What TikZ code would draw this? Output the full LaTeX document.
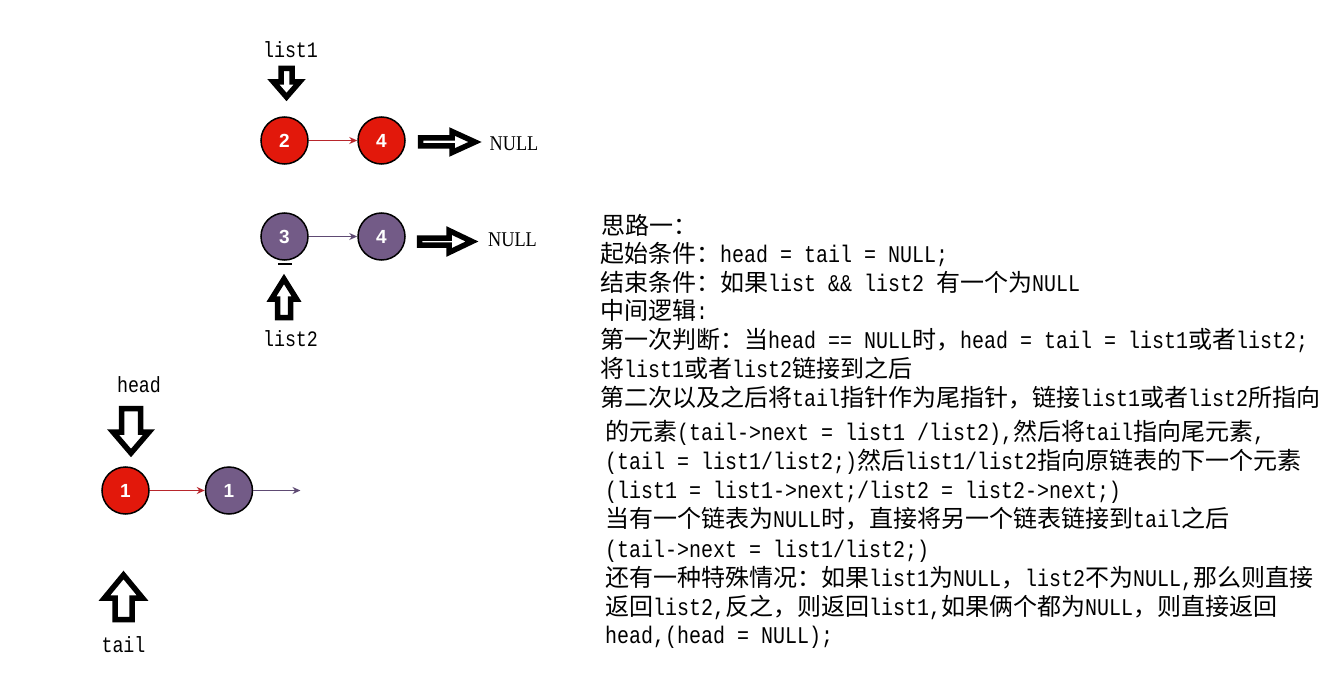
\documentclass[tikz,border=0pt]{standalone}
\usepackage{fontspec}
\usetikzlibrary{arrows.meta}
\newfontfamily\cjkfont{Noto Sans CJK SC}
\newfontfamily\latfont[FakeStretch=0.833]{Liberation Mono}
\newfontfamily\nulltxtfont[FakeStretch=0.87]{Liberation Serif}
\newfontfamily\numfont{Liberation Sans}
\XeTeXinterchartokenstate=1
\newXeTeXintercharclass\cjkcls
\makeatletter
\def\setcjkrange#1#2{\count@=#1\relax\loop\XeTeXcharclass\count@=\cjkcls\relax\ifnum\count@<#2\relax\advance\count@ by 1\relax\repeat}
\makeatother
\setcjkrange{"3000}{"303F}
\setcjkrange{"4E00}{"9FFF}
\setcjkrange{"FF00}{"FFEF}
\XeTeXinterchartoks 0 \cjkcls = {\cjkfont}
\XeTeXinterchartoks 4095 \cjkcls = {\cjkfont}
\XeTeXinterchartoks \cjkcls 0 = {\latfont}
\XeTeXinterchartoks \cjkcls 4095 = {\latfont}
\definecolor{nodered}{HTML}{E2180B}
\definecolor{nodepurple}{HTML}{735B87}
\definecolor{linkred}{HTML}{B8262C}
\definecolor{linkpurple}{HTML}{5E4A73}
\tikzset{
  listnode/.style={circle,draw=black,line width=1.5pt,minimum size=47pt,inner sep=0pt,
    text=white,font=\numfont\bfseries\fontsize{19}{19}\selectfont},
  rednode/.style={listnode,fill=nodered},
  purplenode/.style={listnode,fill=nodepurple},
  redlink/.style={draw=linkred,line width=1.3pt,-{Stealth[length=8pt,width=7pt]}},
  purplelink/.style={draw=linkpurple,line width=1.3pt,-{Stealth[length=8pt,width=7pt]}},
  hollow/.style={draw=black,fill=white,line width=5.5pt,line join=miter},
  ptrlabel/.style={inner sep=0pt,font=\latfont\fontsize{22}{22}\selectfont},
  nulllabel/.style={inner sep=0pt,font=\nulltxtfont\fontsize{21}{21}\selectfont},
  txt/.style={anchor=base west,inner sep=0pt,font=\latfont\fontsize{24}{29}\selectfont}
}
% cx, top, headbase, tip, shafthalf, headhalf
\newcommand\hollowvert[6]{\draw[hollow] ({#1-#5},#2) -- ({#1+#5},#2) -- ({#1+#5},#3) -- ({#1+#6},#3) -- (#1,#4) -- ({#1-#6},#3) -- ({#1-#5},#3) -- cycle;}
% cy, left, headbase, tip, shafthalf, headhalf
\newcommand\hollowhorz[6]{\draw[hollow] (#2,{#1-#5}) -- (#3,{#1-#5}) -- (#3,{#1-#6}) -- (#4,#1) -- (#3,{#1+#6}) -- (#3,{#1+#5}) -- (#2,{#1+#5}) -- cycle;}
\begin{document}
\begin{tikzpicture}[x=1pt,y=-1pt]
\useasboundingbox (0,0) rectangle (1320,698);
% list1 row
\node[ptrlabel] (l1lab) at (290.5,49.5) {list1};
\hollowvert{286.5}{68.5}{82}{97}{5.5}{13}
\node[rednode] (a2) at (284.5,140.5) {2};
\node[rednode] (a4) at (381.5,140.5) {4};
\draw[redlink] (a2) -- (a4);
\hollowhorz{142}{420.5}{452}{475}{4}{10.5}
\node[nulllabel] (null1) at (514,144) {NULL};
% list2 row
\node[purplenode] (b3) at (284.5,236.5) {3};
\node[purplenode] (b4) at (381.5,236.5) {4};
\draw[purplelink] (b3) -- (b4);
\hollowhorz{241.5}{419.5}{449}{472}{3.5}{11}
\node[nulllabel] (null2) at (512.5,239.5) {NULL};
\draw[line width=1.5pt] (278,264) -- (292,264);
\hollowvert{284}{317.5}{299}{279}{6.5}{12.5}
\node[ptrlabel] (l2lab) at (290.5,339) {list2};
% head / tail
\node[ptrlabel] (headlab) at (139,385) {head};
\hollowvert{131}{408.5}{432}{453}{9.5}{18}
\node[rednode] (c1) at (125.5,490.5) {1};
\node[purplenode] (d1) at (229,490.5) {1};
\coordinate (dend) at (300.5,490.5);
\draw[redlink] (c1) -- (d1);
\draw[purplelink] (d1) -- (dend);
\hollowvert{123.5}{619.5}{598}{575}{8.5}{19}
\node[ptrlabel] (taillab) at (123.5,644.5) {tail};
% text block
\node[txt] (t1) at (601,234) {思路一：};
\node[txt] (t2) at (600,262) {起始条件：head = tail = NULL;};
\node[txt] (t3) at (600,291) {结束条件：如果list \&\& list2 有一个为NULL};
\node[txt] (t4) at (600,319) {中间逻辑:};
\node[txt] (t5) at (600,348) {第一次判断：当head == NULL时，head = tail = list1或者list2;};
\node[txt] (t6) at (600,377) {将list1或者list2链接到之后};
\node[txt] (t7) at (600,406) {第二次以及之后将tail指针作为尾指针，链接list1或者list2所指向};
\node[txt] (t8) at (605,440) {的元素(tail->next = list1 /list2),然后将tail指向尾元素,};
\node[txt] (t9) at (605,469) {(tail = list1/list2;)然后list1/list2指向原链表的下一个元素};
\node[txt] (t10) at (605,498) {(list1 = list1->next;/list2 = list2->next;)};
\node[txt] (t11) at (605,527) {当有一个链表为NULL时，直接将另一个链表链接到tail之后};
\node[txt] (t12) at (605,557) {(tail->next = list1/list2;)};
\node[txt] (t13) at (605,586) {还有一种特殊情况：如果list1为NULL，list2不为NULL,那么则直接};
\node[txt] (t14) at (605,615) {返回list2,反之，则返回list1,如果俩个都为NULL，则直接返回};
\node[txt] (t15) at (605,643) {head,(head = NULL);};
\end{tikzpicture}
\end{document}
